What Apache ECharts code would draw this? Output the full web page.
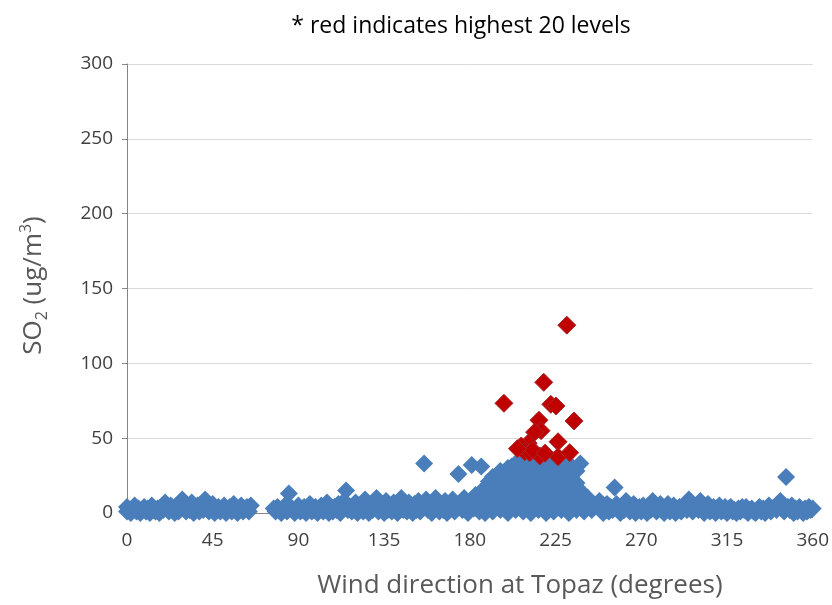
<!DOCTYPE html>
<html>
<head>
<meta charset="utf-8">
<script src="https://cdn.jsdelivr.net/npm/echarts@6/dist/echarts.min.js"></script>
<style>
html,body{margin:0;padding:0;background:#fff;}
#chart{width:832px;height:605px;}
</style>
</head>
<body>
<div id="chart"></div>
<script>
// ---- data ----
const titleText = '* red indicates highest 20 levels';
const xAxisTitle = 'Wind direction at Topaz (degrees)';
const xTicks = [0, 45, 90, 135, 180, 225, 270, 315, 360];
const yTicks = [0, 50, 100, 150, 200, 250, 300];

// highest 20 levels [wind direction (deg), SO2 (ug/m3)]
const redPoints = [
  [230.9,125.5],[218.8,87.3],[197.9,73.3],[222.5,72.6],[225.2,71.5],
  [234.7,61.5],[216.3,62.0],[217.4,55.0],[214.0,54.0],[226.3,47.6],
  [210.6,46.6],[207.0,44.8],[208.8,41.0],[211.4,40.3],[216.7,38.1],
  [226.3,37.6],[232.4,40.3],[213.0,42.0],[219.5,40.0],[205.0,43.0]
];

// remaining levels, 0-65 deg
const blueA = [
  [0,4],[0,1],[1,2],[2,0],[3,3],[4,5],[5,1],[6,3],[7,0],[8,2],[9,4],[10,1],[11,3],[12,0],[13,5],
  [14,2],[15,1],[16,3],[17,0],[18,4],[19,2],[20,7],[21,3],[22,1],[23,5],[24,2],[25,0],[26,4],
  [27,1],[28,6],[29,9],[30,3],[31,1],[32,5],[33,2],[34,7],[35,0],[36,3],[37,5],[38,1],[39,4],
  [40,2],[41,9],[42,5],[43,1],[44,3],[45,6],[46,0],[47,2],[48,4],[49,1],[50,3],[51,5],[52,0],
  [53,2],[54,4],[55,1],[56,6],[57,3],[58,0],[59,2],[60,5],[61,1],[62,3],[63,4],[64,1],[65,5]
];
// 77-187 deg
const blueB = [
  [77,3],[78,1],[79,4],[80,2],[81,0],[82,3],[83,5],[84,1],[85,13],[86,4],[87,2],[88,0],[89,3],
  [90,5],[91,1],[92,2],[93,4],[94,0],[95,3],[96,6],[97,1],[98,2],[99,4],[100,0],[101,3],[102,5],
  [103,1],[104,2],[105,7],[106,0],[107,3],[108,1],[109,4],[110,2],[111,6],[112,0],[113,3],[114,8],
  [115,15],[116,2],[117,4],[118,1],[119,3],[120,7],[121,0],[122,2],[123,5],[124,1],[125,9],[126,3],
  [127,0],[128,4],[129,2],[130,7],[131,10],[132,1],[133,3],[134,6],[135,0],[136,8],[137,2],[138,4],
  [139,1],[140,7],[141,3],[142,0],[143,6],[144,10],[145,2],[146,4],[147,1],[148,7],[149,3],[150,0],
  [151,6],[152,2],[153,8],[154,1],[155,4],[156,33],[157,9],[158,2],[159,5],[160,0],[161,3],[162,10],
  [163,6],[164,1],[165,4],[166,2],[167,8],[168,0],[169,3],[170,5],[171,9],[172,1],[173,4],[174,26],
  [175,6],[176,2],[177,10],[178,4],[179,0],[180,7],[181,32],[182,3],[183,12],[184,5],[185,1],[186,31],
  [187,8]
];
// 188-252 deg (main cluster)
const blueC = [
  [188,0],[188,9],[188,17],[190,4],[190,13],[190,21],[192,1],[192,10],[192,18],[192,24],
  [194,6],[194,15],[194,23],[196,2],[196,11],[196,20],[196,28],[198,7],[198,16],[198,25],
  [200,0],[200,9],[200,18],[200,27],[200,30],[202,4],[202,13],[202,22],[202,31],
  [204,2],[204,11],[204,20],[204,29],[204,33],[206,6],[206,15],[206,24],[206,33],
  [208,1],[208,10],[208,19],[208,28],[208,35],[210,5],[210,14],[210,23],[210,32],[210,36],
  [212,0],[212,9],[212,18],[212,27],[212,35],[214,4],[214,13],[214,22],[214,31],[214,36],
  [216,2],[216,11],[216,20],[216,29],[216,36],[218,6],[218,15],[218,24],[218,33],[218,37],
  [220,0],[220,9],[220,18],[220,27],[220,35],[222,4],[222,13],[222,22],[222,31],[222,36],
  [224,1],[224,10],[224,19],[224,28],[224,35],[226,6],[226,15],[226,24],[226,33],
  [228,2],[228,11],[228,20],[228,29],[228,34],[230,5],[230,14],[230,23],[230,32],
  [232,0],[232,9],[232,18],[232,27],[232,33],[234,4],[234,13],[234,22],[234,30],
  [236,2],[236,11],[236,20],[236,28],[238,6],[238,15],[238,33],[240,1],[240,8],
  [242,4],[242,10],[244,2],[244,7],[246,5],[248,3],[248,8],[250,0],[250,5],[252,2],[252,6]
];
// 253-360 deg
const blueD = [
  [253,1],[254,4],[255,2],[256,17],[257,6],[258,3],[259,0],[260,5],[261,2],[262,8],[263,4],[264,1],
  [265,3],[266,6],[267,0],[268,2],[269,4],[270,1],[271,5],[272,3],[273,0],[274,4],[275,2],[276,8],
  [277,5],[278,1],[279,3],[280,6],[281,2],[282,0],[283,4],[284,6],[285,1],[286,3],[287,5],[288,0],
  [289,2],[290,4],[291,1],[292,3],[293,6],[294,2],[295,9],[296,4],[297,1],[298,3],[299,5],[300,2],
  [301,8],[302,4],[303,0],[304,3],[305,6],[306,1],[307,2],[308,4],[309,0],[310,3],[311,5],[312,1],
  [313,2],[314,4],[315,0],[316,3],[317,4],[318,1],[319,2],[320,0],[321,3],[322,1],[323,4],[324,2],
  [325,4],[326,0],[327,2],[328,3],[329,1],[330,0],[331,2],[332,4],[333,1],[334,3],[335,0],[336,2],
  [337,5],[338,1],[339,3],[340,4],[341,2],[342,6],[343,8],[344,3],[345,1],[346,24],[347,4],[348,2],
  [349,5],[350,0],[351,3],[352,1],[353,4],[354,2],[355,0],[356,3],[357,1],[358,4],[359,2],[360,3]
];
const bluePoints = blueA.concat(blueB, blueC, blueD);

// ---- chart ----
const FONT = 'Open Sans';
const chart = echarts.init(document.getElementById('chart'), null, {renderer: 'canvas'});
const option = {
  animation: false,
  backgroundColor: '#ffffff',
  title: {
    text: titleText,
    left: 456, top: 10, textAlign: 'center',
    textStyle: {fontFamily: FONT, fontSize: 23, fontWeight: 'normal', color: '#000000'}
  },
  grid: {left: 127, right: 19, top: 64, bottom: 92, containLabel: false},
  xAxis: {
    type: 'value', min: xTicks[0], max: xTicks[xTicks.length - 1], interval: xTicks[1] - xTicks[0],
    axisLine: {show: true, onZero: false, lineStyle: {color: '#868686', width: 1}},
    axisTick: {show: true, length: 5, lineStyle: {color: '#868686'}},
    splitLine: {show: false},
    axisLabel: {margin: 18, fontFamily: FONT, fontSize: 19, color: '#404040'},
    name: xAxisTitle, nameLocation: 'middle', nameGap: 60,
    nameTextStyle: {fontFamily: FONT, fontSize: 26, color: '#595959', padding: [0, 0, 0, 100]}
  },
  yAxis: {
    type: 'value', min: yTicks[0], max: yTicks[yTicks.length - 1], interval: yTicks[1] - yTicks[0],
    axisLine: {show: true, lineStyle: {color: '#868686', width: 1}},
    axisTick: {show: true, length: 5, lineStyle: {color: '#868686'}},
    splitLine: {show: true, lineStyle: {color: '#D9D9D9', width: 1}},
    axisLabel: {margin: 14, fontFamily: FONT, fontSize: 19, color: '#404040'},
    name: 'SO{sub|2} (ug/m{sup|3})', nameLocation: 'middle', nameGap: 77, nameRotate: 90,
    nameTextStyle: {
      fontFamily: FONT, fontSize: 26, color: '#595959', lineHeight: 32,
      padding: [0, 0, 0, 6],
      rich: {
        sub: {fontFamily: FONT, fontSize: 16, color: '#595959', verticalAlign: 'bottom', lineHeight: 16},
        sup: {fontFamily: FONT, fontSize: 16, color: '#595959', verticalAlign: 'top', lineHeight: 16}
      }
    }
  },
  series: [
    {
      type: 'scatter', symbol: 'diamond', symbolSize: 18,
      itemStyle: {color: '#4A7EBB', opacity: 1},
      data: bluePoints, z: 2
    },
    {
      type: 'scatter', symbol: 'diamond', symbolSize: 18,
      itemStyle: {color: '#C00000', borderColor: '#A8282B', borderWidth: 1, opacity: 1},
      data: redPoints, z: 3
    }
  ]
};
chart.setOption(option);
</script>
</body>
</html>
